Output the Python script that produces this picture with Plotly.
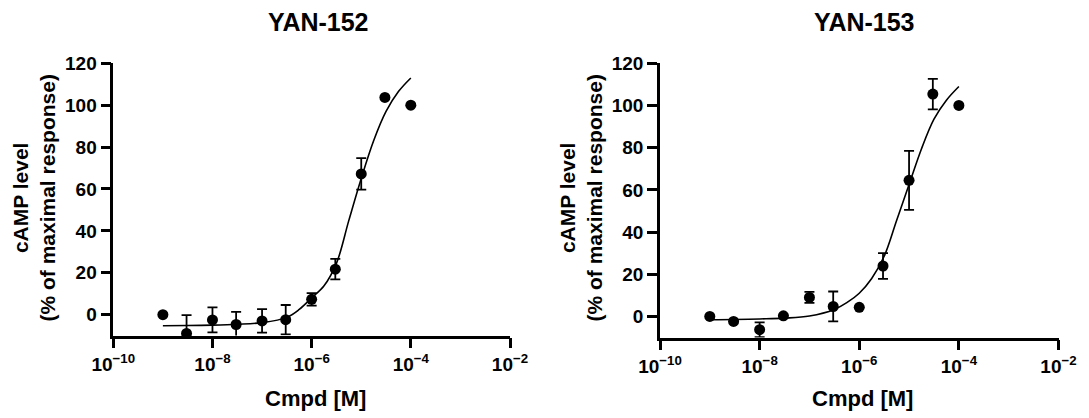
import plotly.graph_objects as go

# ---- data ----
dose = [1e-9, 3e-9, 1e-8, 3e-8, 1e-7, 3e-7, 1e-6, 3e-6, 1e-5, 3e-5, 1e-4]

y152 = [0.0, -9.0, -2.5, -4.7, -3.0, -2.4, 7.3, 21.7, 67.2, 103.7, 100.0]
e152 = [0.0, 8.8, 6.0, 6.0, 5.6, 7.0, 3.0, 4.9, 7.5, 0.0, 0.0]

y153 = [0.0, -2.4, -6.3, 0.3, 9.0, 4.7, 4.3, 23.9, 64.5, 105.4, 100.0]
e153 = [0.0, 0.0, 3.5, 0.0, 2.6, 7.1, 0.0, 6.1, 14.0, 7.2, 0.0]

# fitted curves (log10 dose, response)
curve_logx = [-9.0, -8.5, -8.0, -7.5, -7.0, -6.5, -6.25, -6.0, -5.75, -5.5,
              -5.25, -5.0, -4.75, -4.5, -4.25, -4.0]
curve152 = [-5.3, -5.2, -5.0, -4.6, -3.8, -1.3, 2.5, 8.0, 13.8, 24.5,
            45.0, 65.0, 83.0, 97.0, 106.5, 113.0]
curve153 = [-1.6, -1.5, -1.2, -0.8, 0.2, 3.3, 6.5, 11.0, 18.0, 28.5,
            45.5, 62.5, 79.5, 93.5, 102.5, 109.0]

titles = ["YAN-152", "YAN-153"]
x_tickvals = [1e-10, 1e-8, 1e-6, 1e-4, 1e-2]
x_ticktext = ["10<sup>\u221210</sup>", "10<sup>\u22128</sup>", "10<sup>\u22126</sup>",
              "10<sup>\u22124</sup>", "10<sup>\u22122</sup>"]
y_tickvals = [0, 20, 40, 60, 80, 100, 120]
y_title = "cAMP level<br>(% of maximal response)"
x_title = "Cmpd [M]"

FONT = "Liberation Sans"
OFF = 8                      # page body margin
W, H = 1089 - OFF, 418 - OFF


def px(v):
    return (v - OFF) / W


def py(v):
    return 1 - (v - OFF) / H


fig = go.Figure()

panels = [
    dict(y=y152, e=e152, c=curve152, xa="x", ya="y"),
    dict(y=y153, e=e153, c=curve153, xa="x2", ya="y2"),
]
for p in panels:
    fig.add_trace(go.Scatter(
        x=[10 ** v for v in curve_logx], y=p["c"], mode="lines",
        line=dict(color="black", width=1.6, shape="spline", smoothing=1.0),
        xaxis=p["xa"], yaxis=p["ya"], showlegend=False, hoverinfo="skip"))
    fig.add_trace(go.Scatter(
        x=dose, y=p["y"], mode="markers",
        marker=dict(size=11, color="rgba(0,0,0,0)"),
        error_y=dict(type="data", array=p["e"], visible=True,
                     color="black", thickness=1.8, width=5),
        cliponaxis=True,
        xaxis=p["xa"], yaxis=p["ya"], showlegend=False, hoverinfo="skip"))
    fig.add_trace(go.Scatter(
        x=dose, y=p["y"], mode="markers",
        marker=dict(size=11, color="black", line=dict(width=0)),
        cliponaxis=False,
        xaxis=p["xa"], yaxis=p["ya"], showlegend=False))

xdom = [[px(113.3), px(510)], [px(660), px(1058.5)]]
ydom = [[py(335.6), py(63.3)], [py(337.5), py(63.3)]]

TICKSIZE = 19
common_x = dict(type="log", range=[-10, -2], tickvals=x_tickvals, ticktext=x_ticktext,
                ticks="outside", ticklen=10, tickwidth=2.5, tickcolor="black",
                showline=True, linewidth=2.5, linecolor="black", automargin=False,
                showgrid=False, zeroline=False, layer="below traces",
                tickfont=dict(family=FONT, size=TICKSIZE, color="black", weight="bold"))
common_y = dict(range=[-10, 120], tickvals=y_tickvals,
                ticks="outside", ticklen=10, tickwidth=2.5, tickcolor="black",
                showline=True, linewidth=2.5, linecolor="black", automargin=False,
                showgrid=False, zeroline=False, layer="below traces",
                tickfont=dict(family=FONT, size=TICKSIZE, color="black", weight="bold"))

fig.update_layout(
    width=W, height=H, autosize=False,
    margin=dict(l=0, r=0, t=0, b=0, pad=0, autoexpand=False),
    paper_bgcolor="white", plot_bgcolor="white",
    xaxis=dict(domain=xdom[0], anchor="y", **common_x),
    yaxis=dict(domain=ydom[0], anchor="x", **common_y),
    xaxis2=dict(domain=xdom[1], anchor="y2", **common_x),
    yaxis2=dict(domain=ydom[1], anchor="x2", **common_y),
)

anns = []
title_x = [318, 864]
ytitle_x = [33.5, 580.5]
xtitle_x = [315, 862]
for i in range(2):
    anns.append(dict(text=titles[i], x=px(title_x[i]), y=py(21.5), xref="paper", yref="paper",
                     xanchor="center", yanchor="middle", showarrow=False,
                     font=dict(family=FONT, size=25, color="black", weight="bold")))
    anns.append(dict(text=y_title, x=px(ytitle_x[i]), y=py(198), xref="paper", yref="paper",
                     xanchor="center", yanchor="middle", showarrow=False, textangle=-90,
                     font=dict(family=FONT, size=21, color="black", weight="bold")))
    anns.append(dict(text=x_title, x=px(xtitle_x[i]), y=py(398), xref="paper", yref="paper",
                     xanchor="center", yanchor="middle", showarrow=False,
                     font=dict(family=FONT, size=22, color="black", weight="bold")))
fig.update_layout(annotations=anns)

fig.write_html("out.html", config={"responsive": False, "displayModeBar": False})
